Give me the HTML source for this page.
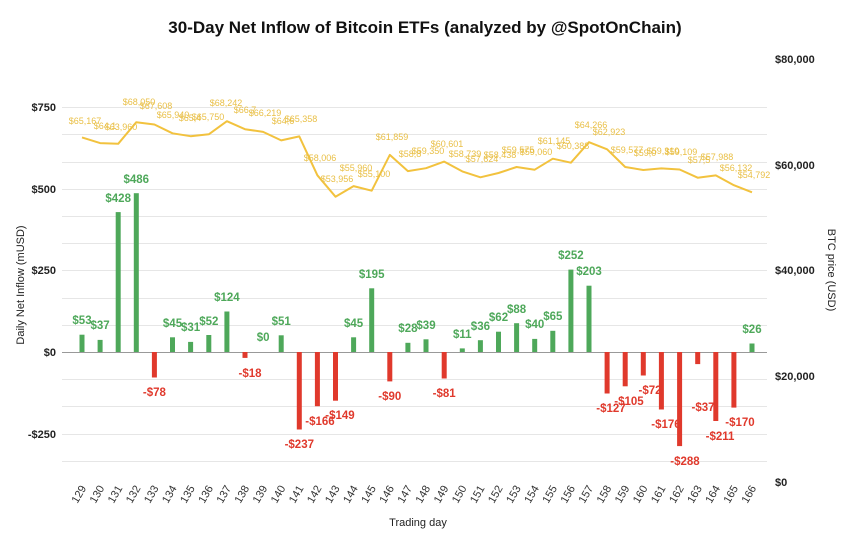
<!DOCTYPE html>
<html><head><meta charset="utf-8"><style>
body{margin:0;background:#fff;}
svg{display:block;font-family:"Liberation Sans",sans-serif;}
.g{stroke:#e6e6e6;stroke-width:1}
.pl{font-size:9px;fill:#e9bf45;text-anchor:middle}
.gp{fill:#4ea85a;font-size:11.5px;font-weight:bold;text-anchor:middle}
.rn{fill:#e0392c;font-size:11.5px;font-weight:bold;text-anchor:middle}
.xt{font-size:11px;fill:#333;text-anchor:middle}
.ax{font-size:11px;fill:#222;font-weight:bold}
</style></head><body>
<svg width="850" height="543" viewBox="0 0 850 543">
<text x="425" y="33" text-anchor="middle" font-size="17" font-weight="bold" fill="#111">30-Day Net Inflow of Bitcoin ETFs (analyzed by @SpotOnChain)</text>
<g class="g">
<line x1="62" x2="767" y1="107.5" y2="107.5"/><line x1="62" x2="767" y1="134.5" y2="134.5"/><line x1="62" x2="767" y1="162.5" y2="162.5"/><line x1="62" x2="767" y1="189.5" y2="189.5"/><line x1="62" x2="767" y1="216.5" y2="216.5"/><line x1="62" x2="767" y1="243.5" y2="243.5"/><line x1="62" x2="767" y1="270.5" y2="270.5"/><line x1="62" x2="767" y1="298.5" y2="298.5"/><line x1="62" x2="767" y1="325.5" y2="325.5"/><line x1="62" x2="767" y1="379.5" y2="379.5"/><line x1="62" x2="767" y1="406.5" y2="406.5"/><line x1="62" x2="767" y1="434.5" y2="434.5"/><line x1="62" x2="767" y1="461.5" y2="461.5"/>
</g>
<line x1="62" x2="767" y1="352.5" y2="352.5" stroke="#999"/>
<g class="ax" text-anchor="end">
<text x="56" y="111">$750</text><text x="56" y="193">$500</text><text x="56" y="274">$250</text><text x="56" y="356">$0</text><text x="56" y="438">-$250</text>
</g>
<g class="ax">
<text x="775" y="63">$80,000</text><text x="775" y="169">$60,000</text><text x="775" y="274">$40,000</text><text x="775" y="380">$20,000</text><text x="775" y="486">$0</text>
</g>
<text transform="translate(24,285) rotate(-90)" text-anchor="middle" font-size="11" fill="#222">Daily Net Inflow (mUSD)</text>
<text transform="translate(828,270) rotate(90)" text-anchor="middle" font-size="11" fill="#222">BTC price (USD)</text>
<text x="418" y="526" text-anchor="middle" font-size="11" fill="#222">Trading day</text>
<g fill="#4ea85a">
<rect x="79.5" y="334.7" width="5" height="17.3"/><rect x="97.6" y="339.9" width="5" height="12.1"/><rect x="115.7" y="212.1" width="5" height="139.9"/><rect x="133.8" y="193.2" width="5" height="158.8"/><rect x="170" y="337.3" width="5" height="14.7"/><rect x="188.1" y="341.9" width="5" height="10.1"/><rect x="206.3" y="335" width="5" height="17"/><rect x="224.4" y="311.5" width="5" height="40.5"/><rect x="278.7" y="335.3" width="5" height="16.7"/><rect x="351.1" y="337.3" width="5" height="14.7"/><rect x="369.2" y="288.3" width="5" height="63.7"/><rect x="405.4" y="342.8" width="5" height="9.2"/><rect x="423.5" y="339.3" width="5" height="12.7"/><rect x="459.8" y="348.4" width="5" height="3.6"/><rect x="477.9" y="340.2" width="5" height="11.8"/><rect x="496" y="331.7" width="5" height="20.3"/><rect x="514.1" y="323.2" width="5" height="28.8"/><rect x="532.2" y="338.9" width="5" height="13.1"/><rect x="550.3" y="330.8" width="5" height="21.2"/><rect x="568.4" y="269.6" width="5" height="82.4"/><rect x="586.5" y="285.7" width="5" height="66.3"/><rect x="749.5" y="343.5" width="5" height="8.5"/>
</g>
<g fill="#e0392c">
<rect x="151.9" y="352" width="5" height="25.5"/><rect x="242.5" y="352" width="5" height="5.9"/><rect x="296.8" y="352" width="5" height="77.5"/><rect x="314.9" y="352" width="5" height="54.2"/><rect x="333" y="352" width="5" height="48.7"/><rect x="387.3" y="352" width="5" height="29.4"/><rect x="441.7" y="352" width="5" height="26.5"/><rect x="604.6" y="352" width="5" height="41.5"/><rect x="622.7" y="352" width="5" height="34.3"/><rect x="640.8" y="352" width="5" height="23.5"/><rect x="658.9" y="352" width="5" height="57.5"/><rect x="677.1" y="352" width="5" height="94.1"/><rect x="695.2" y="352" width="5" height="12.1"/><rect x="713.3" y="352" width="5" height="69"/><rect x="731.4" y="352" width="5" height="55.6"/>
</g>
<g class="gp">
<text x="82" y="324">$53</text><text x="100.1" y="329">$37</text><text x="118.2" y="202">$428</text><text x="136.3" y="183">$486</text><text x="172.5" y="327">$45</text><text x="190.6" y="331">$31</text><text x="208.8" y="325">$52</text><text x="226.9" y="301">$124</text><text x="263.1" y="341">$0</text><text x="281.2" y="325">$51</text><text x="353.6" y="327">$45</text><text x="371.7" y="278">$195</text><text x="407.9" y="332">$28</text><text x="426" y="329">$39</text><text x="462.3" y="338">$11</text><text x="480.4" y="330">$36</text><text x="498.5" y="321">$62</text><text x="516.6" y="313">$88</text><text x="534.7" y="328">$40</text><text x="552.8" y="320">$65</text><text x="570.9" y="259">$252</text><text x="589" y="275">$203</text><text x="752" y="333">$26</text>
</g>
<g class="rn">
<text x="154.4" y="396">-$78</text><text x="250" y="377">-$18</text><text x="299.3" y="448">-$237</text><text x="320" y="425">-$166</text><text x="340" y="419">-$149</text><text x="389.8" y="400">-$90</text><text x="444.2" y="397">-$81</text><text x="611" y="412">-$127</text><text x="629" y="405">-$105</text><text x="650" y="394">-$72</text><text x="666" y="428">-$176</text><text x="685" y="465">-$288</text><text x="703" y="411">-$37</text><text x="720" y="440">-$211</text><text x="740" y="426">-$170</text>
</g>
<polyline fill="none" stroke="#f2c23e" stroke-width="2" stroke-linejoin="round" points="82,137.4 100.1,143.1 118.2,143.8 136.3,122.2 154.4,124.5 172.5,133.3 190.6,136.2 208.8,134.3 226.9,121.2 245,129.2 263.1,131.9 281.2,140.4 299.3,136.4 317.4,175.3 335.5,196.7 353.6,186.1 371.7,190.7 389.8,154.9 407.9,171.1 426,168.2 444.2,161.6 462.3,171.4 480.4,177.3 498.5,173 516.6,167 534.7,169.7 552.8,158.7 570.9,162.7 589,142.2 607.1,149.3 625.2,167 643.3,170 661.4,168.4 679.6,169.5 697.7,177.7 715.8,175.4 733.9,185.2 752,192.3"/>
<g class="pl">
<text x="85" y="124">$65,167</text><text x="105" y="129">$64,1</text><text x="121" y="130">$63,960</text><text x="139" y="105">$68,050</text><text x="156" y="109">$67,608</text><text x="173" y="118">$65,940</text><text x="190" y="121">$65,4</text><text x="208" y="120">$65,750</text><text x="226" y="106">$68,242</text><text x="245" y="113">$66,7</text><text x="265" y="116">$66,219</text><text x="283" y="124">$64,6</text><text x="301" y="122">$65,358</text><text x="320" y="161">$58,006</text><text x="337" y="182">$53,956</text><text x="356" y="171">$55,960</text><text x="374" y="177">$55,100</text><text x="392" y="140">$61,859</text><text x="410" y="157">$58,8</text><text x="428" y="154">$59,350</text><text x="447" y="147">$60,601</text><text x="465" y="157">$58,739</text><text x="482" y="162">$57,624</text><text x="500" y="158">$58,438</text><text x="518" y="153">$59,575</text><text x="536" y="155">$59,060</text><text x="554" y="144">$61,145</text><text x="573" y="149">$60,388</text><text x="591" y="128">$64,266</text><text x="609" y="135">$62,923</text><text x="627" y="153">$59,577</text><text x="645" y="156">$59,0</text><text x="663" y="154">$59,310</text><text x="681" y="155">$59,109</text><text x="699" y="163">$57,5</text><text x="717" y="160">$57,988</text><text x="736" y="171">$56,132</text><text x="754" y="178">$54,792</text>
</g>
<g class="xt">
<text transform="translate(82,496) rotate(-60)">129</text><text transform="translate(100.1,496) rotate(-60)">130</text><text transform="translate(118.2,496) rotate(-60)">131</text><text transform="translate(136.3,496) rotate(-60)">132</text><text transform="translate(154.4,496) rotate(-60)">133</text><text transform="translate(172.5,496) rotate(-60)">134</text><text transform="translate(190.6,496) rotate(-60)">135</text><text transform="translate(208.8,496) rotate(-60)">136</text><text transform="translate(226.9,496) rotate(-60)">137</text><text transform="translate(245,496) rotate(-60)">138</text><text transform="translate(263.1,496) rotate(-60)">139</text><text transform="translate(281.2,496) rotate(-60)">140</text><text transform="translate(299.3,496) rotate(-60)">141</text><text transform="translate(317.4,496) rotate(-60)">142</text><text transform="translate(335.5,496) rotate(-60)">143</text><text transform="translate(353.6,496) rotate(-60)">144</text><text transform="translate(371.7,496) rotate(-60)">145</text><text transform="translate(389.8,496) rotate(-60)">146</text><text transform="translate(407.9,496) rotate(-60)">147</text><text transform="translate(426,496) rotate(-60)">148</text><text transform="translate(444.2,496) rotate(-60)">149</text><text transform="translate(462.3,496) rotate(-60)">150</text><text transform="translate(480.4,496) rotate(-60)">151</text><text transform="translate(498.5,496) rotate(-60)">152</text><text transform="translate(516.6,496) rotate(-60)">153</text><text transform="translate(534.7,496) rotate(-60)">154</text><text transform="translate(552.8,496) rotate(-60)">155</text><text transform="translate(570.9,496) rotate(-60)">156</text><text transform="translate(589,496) rotate(-60)">157</text><text transform="translate(607.1,496) rotate(-60)">158</text><text transform="translate(625.2,496) rotate(-60)">159</text><text transform="translate(643.3,496) rotate(-60)">160</text><text transform="translate(661.4,496) rotate(-60)">161</text><text transform="translate(679.6,496) rotate(-60)">162</text><text transform="translate(697.7,496) rotate(-60)">163</text><text transform="translate(715.8,496) rotate(-60)">164</text><text transform="translate(733.9,496) rotate(-60)">165</text><text transform="translate(752,496) rotate(-60)">166</text>
</g>
</svg>
</body></html>
